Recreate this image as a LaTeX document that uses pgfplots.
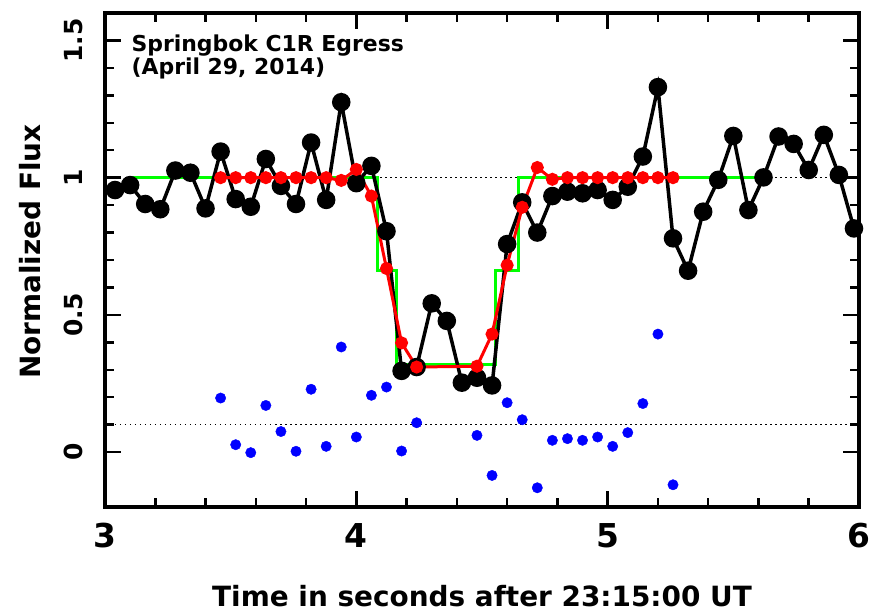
\documentclass[border=0pt]{standalone}
\usepackage{pgfplots}
\pgfplotsset{compat=1.18}
\usepackage{fontspec}
\setmainfont{DejaVu Sans}
\newcommand{\titlefont}{\fontsize{22}{23.5}\selectfont\bfseries\lineskiplimit=-30pt\relax\lineskip=0pt\relax}

% green step model, black data, red fit, blue residuals (+0.1)
\pgfplotstableread{
x y
3.04 0.955
3.10 0.973
3.16 0.904
3.22 0.885
3.28 1.026
3.34 1.018
3.40 0.888
3.46 1.095
3.52 0.922
3.58 0.894
3.64 1.068
3.70 0.970
3.76 0.904
3.82 1.128
3.88 0.919
3.94 1.275
4.00 0.980
4.06 1.043
4.12 0.805
4.18 0.296
4.24 0.310
4.30 0.542
4.36 0.478
4.42 0.253
4.48 0.271
4.54 0.243
4.60 0.758
4.66 0.910
4.72 0.800
4.78 0.933
4.84 0.949
4.90 0.943
4.96 0.955
5.02 0.919
5.08 0.967
5.14 1.077
5.20 1.330
5.26 0.779
5.32 0.661
5.38 0.876
5.44 0.992
5.50 1.152
5.56 0.882
5.62 1.001
5.68 1.150
5.74 1.123
5.80 1.028
5.86 1.156
5.92 1.010
5.98 0.815
}\datatable

\pgfplotstableread{
x y
3.46 1.000
3.52 1.000
3.58 1.000
3.64 1.000
3.70 1.000
3.76 1.000
3.82 1.000
3.88 1.000
3.94 0.990
4.00 1.030
4.06 0.933
4.12 0.669
4.18 0.398
4.24 0.310
4.48 0.313
4.54 0.430
4.60 0.681
4.66 0.892
4.72 1.037
4.78 0.994
4.84 1.000
4.90 1.000
4.96 1.000
5.02 1.000
5.08 1.000
5.14 1.000
5.20 1.000
5.26 1.000
}\fittable

\pgfplotstableread{
x y
3.46 0.197
3.52 0.027
3.58 -0.002
3.64 0.170
3.70 0.075
3.76 0.003
3.82 0.229
3.88 0.021
3.94 0.383
4.00 0.055
4.06 0.207
4.12 0.237
4.18 0.004
4.24 0.107
4.48 0.061
4.54 -0.085
4.60 0.180
4.66 0.118
4.72 -0.130
4.78 0.043
4.84 0.049
4.90 0.043
4.96 0.055
5.02 0.021
5.08 0.071
5.14 0.177
5.20 0.430
5.26 -0.119
}\residtable

\begin{document}
\begin{tikzpicture}
\useasboundingbox (-105bp,-106bp) rectangle (764bp,507bp);
\begin{axis}[
  scale only axis,
  width=754bp, height=494bp,
  xmin=3, xmax=6, ymin=-0.2, ymax=1.6,
  xtick={3,4,5,6}, minor x tick num=4,
  ytick={0,0.5,1,1.5}, minor y tick num=4,
  tick align=inside,
  major tick length=16bp, minor tick length=9bp,
  every tick/.style={black, line width=2.5bp},
  axis line style={line width=3.5bp},
  /pgf/number format/assume math mode=true,
  ticklabel style={font=\bfseries},
  xticklabel style={font=\fontsize{33}{36}\selectfont\bfseries, anchor=north, inner sep=0pt},
  xticklabel shift=16bp,
  yticklabel style={font=\fontsize{25}{28}\selectfont\bfseries, rotate=90, anchor=south, inner sep=0pt},
  yticklabel shift=22bp,
  xlabel={Time in seconds after 23:15:00 UT},
  ylabel={Normalized Flux},
  xlabel style={font=\fontsize{28}{30}\selectfont\bfseries, at={(axis description cs:0.5,-0.2024)}, anchor=base},
  ylabel style={font=\fontsize{28}{30}\selectfont\bfseries, at={(axis description cs:-0.0862,0.517)}, anchor=base},
]
% reference levels
\addplot[black, line width=1.5bp, dash pattern=on 1.5bp off 3.5bp] coordinates {(3,1) (6,1)};
\addplot[black, line width=1.5bp, dash pattern=on 1.5bp off 3.5bp] coordinates {(3,0.1) (6,0.1)};
% square-well model
\addplot[color={rgb,255:red,0;green,255;blue,0}, line width=3bp] coordinates {
  (3.106,1) (4.085,1) (4.085,0.661) (4.16,0.661) (4.16,0.32)
  (4.555,0.32) (4.555,0.661) (4.645,0.661) (4.645,1) (5.624,1)};
% observed light curve
\addplot[black, line width=3.5bp, mark=*, mark size=7.5bp, mark options={solid}] table[x=x, y=y] {\datatable};
% fitted model
\addplot[red, line width=3bp, mark=*, mark size=5bp, mark options={solid, draw=red, fill=red}] table[x=x, y=y] {\fittable};
% residuals
\addplot[only marks, blue, mark=*, mark size=5.2bp, mark options={draw=blue, fill=blue}] table[x=x, y=y] {\residtable};
\node[anchor=north west, inner sep=0pt, align=left, font=\titlefont]
  at (axis cs:3.105,1.522) {Springbok C1R Egress\\(April 29, 2014)};
\end{axis}
\end{tikzpicture}
\end{document}
